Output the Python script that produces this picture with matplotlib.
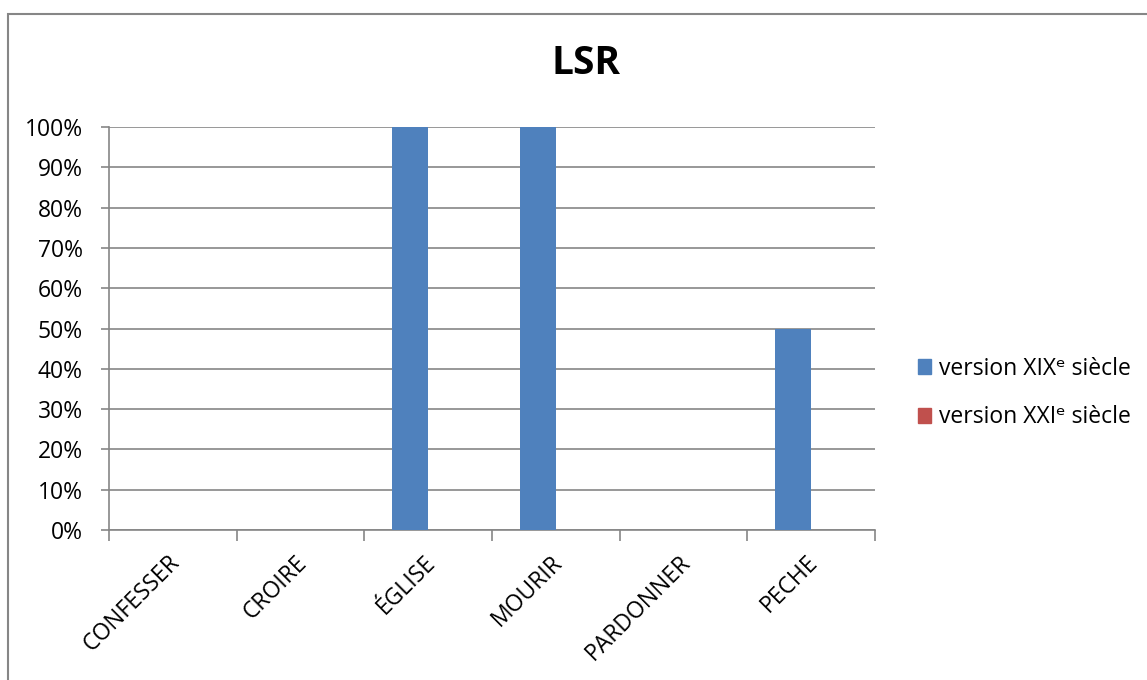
import matplotlib
matplotlib.use("Agg")
import matplotlib.pyplot as plt
import matplotlib.transforms as mtransforms
from matplotlib.patches import Rectangle, Patch
import numpy as np

plt.rcParams['font.family'] = ['Open Sans', 'DejaVu Sans']

# data
categories = ['CONFESSER', 'CROIRE', 'ÉGLISE', 'MOURIR', 'PARDONNER', 'PECHE']
series_names = ['version XIXᵉ siècle', 'version XXIᵉ siècle']
xix_values = [0, 0, 100, 100, 0, 50]
xxi_values = [0, 0, 0, 0, 0, 0]
y_ticks = [0, 10, 20, 30, 40, 50, 60, 70, 80, 90, 100]

blue = '#4F81BD'
red = '#C0504D'
grey = '#868686'
fs = 16.5

W, H = 1147, 680
fig = plt.figure(figsize=(W / 100, H / 100), dpi=100)

# chart border (runs off the right and bottom edges)
fig.patches.append(Rectangle((8 / W, -0.1), 1.2, 1 - 14 / H + 0.1,
                             transform=fig.transFigure, fill=False,
                             edgecolor=grey, linewidth=1.5))

ax = fig.add_axes([109 / W, 1 - 530 / H, (875 - 109) / W, (530 - 127) / H])

x = np.arange(len(categories))
bw = 0.28
ax.bar(x - bw / 2, xix_values, width=bw, color=blue, zorder=3)
ax.bar(x + bw / 2, xxi_values, width=bw, color=red, zorder=3)

ax.set_xlim(-0.5, len(categories) - 0.5)
ax.set_ylim(0, 100)

# y axis
ax.set_yticks(y_ticks)
ax.set_yticklabels([f'{v}%' for v in y_ticks], fontsize=fs)
ax.yaxis.grid(True, color=grey, linewidth=1.2, zorder=0)
ax.tick_params(axis='y', length=6, color=grey, width=1.2, pad=13)

# x axis: tick marks on category boundaries, labels at centres
ax.set_xticks(np.arange(-0.5, len(categories)), minor=False)
ax.set_xticklabels([])
ax.set_xticks(x, minor=True)
ax.set_xticklabels(categories, minor=True, rotation=45, ha='right',
                   rotation_mode='anchor', fontsize=fs)
ax.tick_params(axis='x', which='minor', length=0, pad=15)
ax.tick_params(axis='x', which='major', length=8, color=grey, width=1.2)
shift = mtransforms.ScaledTranslation(-5 / 100, 0, fig.dpi_scale_trans)
for lbl in ax.get_xticklabels(minor=True):
    lbl.set_transform(lbl.get_transform() + shift)

for s in ['top', 'right']:
    ax.spines[s].set_visible(False)
for s in ['left', 'bottom']:
    ax.spines[s].set_color(grey)
    ax.spines[s].set_linewidth(1.2)

fig.text(586 / W, 1 - 64 / H, 'LSR', fontsize=28, fontweight='bold',
         ha='center', va='center')

handles = [Patch(color=blue), Patch(color=red)]
fig.legend(handles, series_names, loc='center left',
           bbox_to_anchor=(897 / W, 1 - 393 / H), frameon=False,
           fontsize=fs, handlelength=0.6, handleheight=0.6,
           handletextpad=0.35, labelspacing=1.08)

fig.savefig('out.png', dpi=100)
